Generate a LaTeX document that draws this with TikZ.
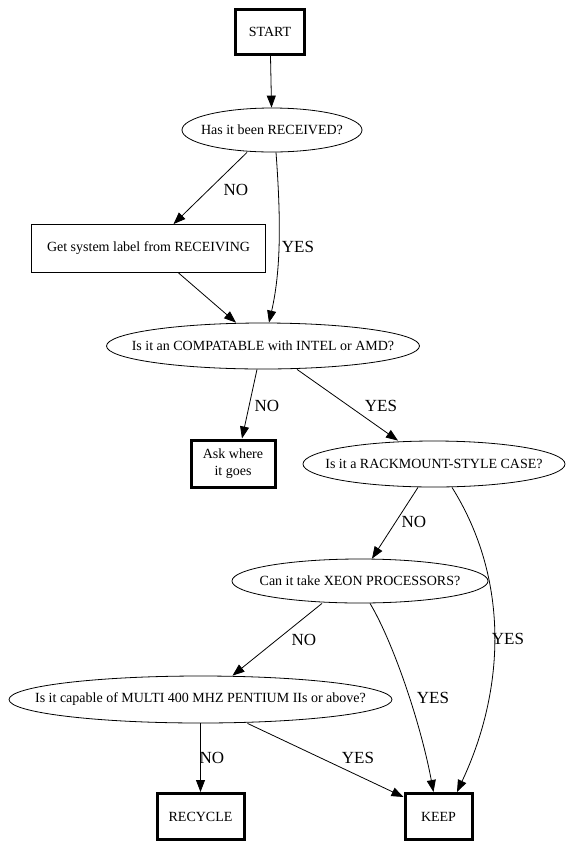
\documentclass[tikz,border=0pt]{standalone}
\usepackage{fontspec}
\setmainfont{Liberation Serif}
\usetikzlibrary{shapes,arrows.meta,positioning,calc}

\newcommand{\qtext}[1]{\makebox[0pt]{#1}}

\begin{document}
\begin{tikzpicture}[
    x=1pt, y=-1pt,
    box/.style={rectangle, draw, line width=0.8pt, inner sep=0pt, font=\fontsize{14}{17}\selectfont},
    endbox/.style={box, line width=3pt},
    question/.style={ellipse, draw, line width=0.8pt, inner sep=0pt, font=\fontsize{14}{17}\selectfont},
    lbl/.style={font=\fontsize{17}{20}\selectfont, inner sep=0pt},
    arr/.style={-{Triangle[length=12pt,width=9pt]}, line width=0.8pt}
]
    \useasboundingbox (0,0) rectangle (572,847);

    % Start and receiving
    \node[endbox, minimum width=69pt, minimum height=45pt] (start) at (270,31.5) {START};
    \node[question, minimum width=180pt, minimum height=44pt] (rec) at (272,130) {\qtext{Has it been RECEIVED?}};
    \node[box, minimum width=234pt, minimum height=48pt] (get) at (148.5,248.5) {Get system label from RECEIVING};

    % CPU questions
    \node[question, minimum width=313pt, minimum height=46pt] (comp) at (263,346) {\qtext{Is it an COMPATABLE with INTEL or AMD?}};
    \node[endbox, minimum width=84pt, minimum height=47pt, align=center] (ask) at (233,463.5) {Ask where\\it goes};
    \node[question, minimum width=262pt, minimum height=46pt] (rack) at (434,464) {\qtext{Is it a RACKMOUNT-STYLE CASE?}};
    \node[question, minimum width=256pt, minimum height=44pt] (xeon) at (360,581) {\qtext{Can it take XEON PROCESSORS?}};
    \node[question, minimum width=383pt, minimum height=47pt] (multi) at (200.5,699.5) {\qtext{Is it capable of MULTI 400 MHZ PENTIUM IIs or above?}};

    % Outcomes
    \node[endbox, minimum width=87pt, minimum height=46pt] (recycle) at (200.5,816.5) {RECYCLE};
    \node[endbox, minimum width=67pt, minimum height=46pt] (keep) at (438.5,816.5) {KEEP};

    % Labels
    \node[lbl] (no1) at (236,190) {NO};
    \node[lbl] (yes1) at (298,247) {YES};
    \node[lbl] (no2) at (267,406) {NO};
    \node[lbl] (yes2) at (381,406) {YES};
    \node[lbl] (no3) at (414,522) {NO};
    \node[lbl] (yes3) at (508,639) {YES};
    \node[lbl] (no4) at (304,640) {NO};
    \node[lbl] (yes4) at (433,698) {YES};
    \node[lbl] (no5) at (212,758) {NO};
    \node[lbl] (yes5) at (358,758) {YES};

    % Edges
    \draw[arr] (start) -- (rec);
    \draw[arr] ([xshift=-25pt]rec.south) -- ([xshift=25pt]get.north);
    \draw[arr] ([xshift=4pt]rec.south) .. controls (281,220) and (281,270) .. ([xshift=6pt]comp.north);
    \draw[arr] ([xshift=30pt]get.south) -- ([xshift=-27pt]comp.north);
    \draw[arr] ([xshift=-6pt]comp.south) -- ([xshift=9pt]ask.north);
    \draw[arr] ([xshift=34pt]comp.south) -- ([xshift=-36pt]rack.north);
    \draw[arr] ([xshift=-16pt]rack.south) -- ([xshift=12pt]xeon.north);
    \draw[arr] ([xshift=18pt]rack.south) .. controls (510,580) and (505,690) .. ([xshift=18.5pt]keep.north);
    \draw[arr] ([xshift=-38pt]xeon.south) -- ([xshift=32pt]multi.north);
    \draw[arr] ([xshift=10pt]xeon.south) .. controls (392,640) and (420,720) .. ([xshift=-5pt]keep.north);
    \draw[arr] (multi) -- (recycle);
    \draw[arr] ([xshift=47pt]multi.south) -- ([yshift=-5pt]keep.north west);
\end{tikzpicture}
\end{document}
